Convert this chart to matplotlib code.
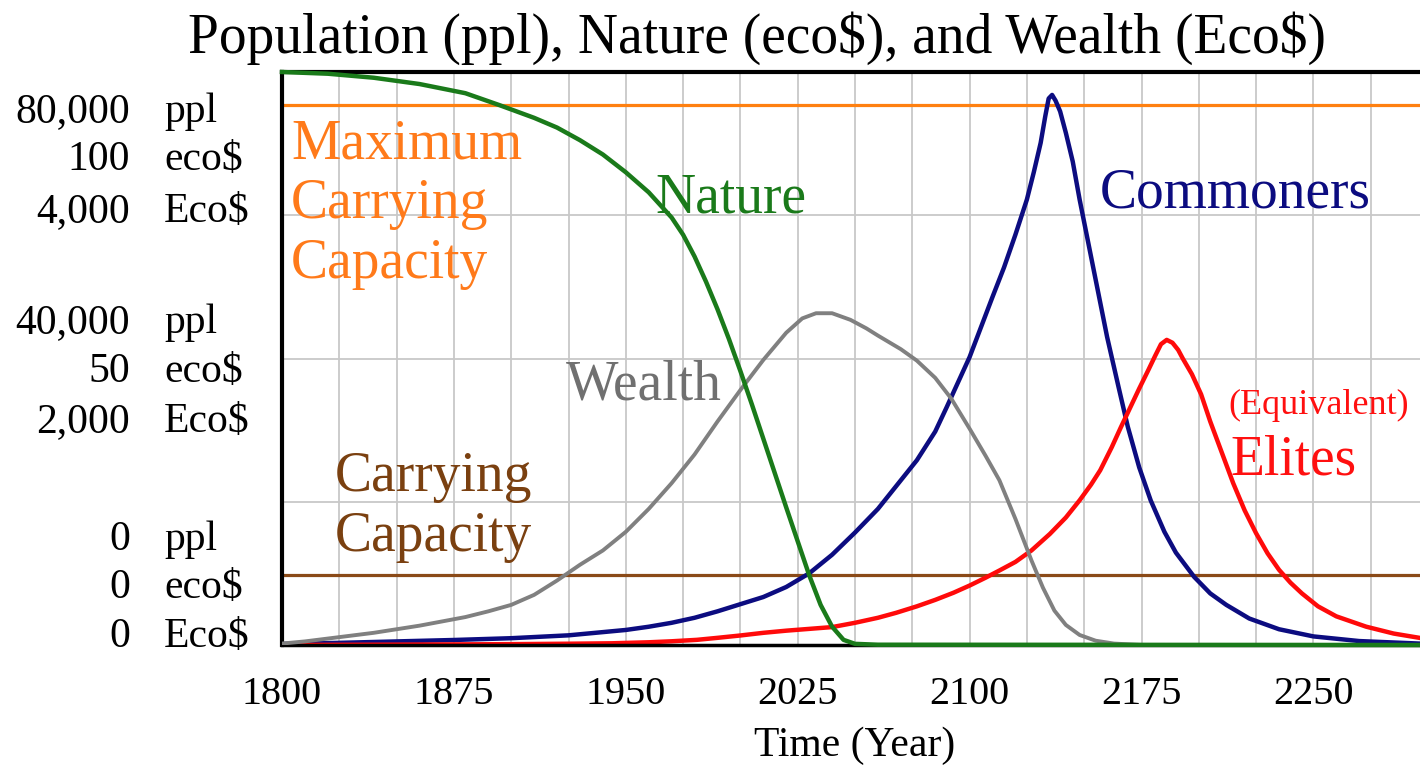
import matplotlib.pyplot as plt
import numpy as np

plt.rcParams['font.family'] = ['Liberation Serif', 'DejaVu Serif']

# population (ppl)
commoners_years = [1800, 1825, 1850, 1875, 1900, 1925, 1950, 1960, 1970, 1980, 1990, 2000,
                   2010, 2020, 2030, 2040, 2050, 2060, 2070, 2077, 2085, 2090, 2095, 2100,
                   2105, 2110, 2115, 2120, 2125, 2128, 2131, 2133, 2134.5, 2136, 2137.5,
                   2139.5, 2142, 2145, 2148, 2152, 2157, 2160, 2165, 2169, 2174, 2179, 2185,
                   2190, 2198, 2205, 2212, 2222, 2235, 2250, 2270, 2300]
commoners = [150, 300, 500, 700, 950, 1350, 2100, 2550, 3100, 3800, 4700, 5700,
             6700, 8100, 10000, 12600, 15700, 19000, 23000, 25800, 29800, 33200, 36700, 40200,
             44400, 48600, 52700, 57300, 62200, 66000, 70100, 73800, 76300, 76800, 76000,
             74500, 71500, 67500, 62200, 55800, 47800, 43000, 36000, 30500, 24800, 20200, 15800,
             12900, 9500, 7200, 5600, 3700, 2200, 1200, 550, 150]

elites_years = [1800, 1850, 1900, 1925, 1944, 1960, 1970, 1981, 1990, 2000, 2010, 2020,
                2030, 2040, 2050, 2060, 2068, 2077, 2085, 2093, 2100, 2107, 2113, 2120,
                2127, 2135, 2142, 2148, 2153, 2157, 2162, 2166, 2170, 2174, 2178, 2181,
                2183.5, 2186, 2188.5, 2191, 2193, 2197, 2201, 2205, 2210, 2215, 2220, 2225,
                2230, 2235, 2240, 2245, 2252, 2260, 2273, 2285, 2300]
elites = [0, 50, 120, 180, 240, 380, 520, 720, 1000, 1330, 1700, 2000,
          2250, 2500, 3100, 3800, 4500, 5400, 6300, 7300, 8300, 9400, 10400, 11600,
          13200, 15500, 17800, 20200, 22400, 24400, 27600, 30400, 33100, 35800, 38400, 40400,
          42000, 42600, 42200, 41200, 40000, 37800, 35000, 31200, 26900, 22600, 18800, 15600,
          12800, 10500, 8700, 7200, 5400, 4000, 2560, 1600, 800]

# nature (eco$)
nature_years = [1800, 1820, 1840, 1860, 1880, 1895, 1910, 1920, 1930, 1940, 1950, 1960,
                1970, 1975, 1980, 1985, 1990, 1995, 2000, 2005, 2010, 2015, 2020, 2025,
                2030, 2035, 2040, 2045, 2050, 2060, 2300]
nature = [100, 99.7, 99.0, 97.9, 96.3, 94.2, 92.0, 90.3, 88.1, 85.6, 82.5, 79.0,
          74.6, 71.6, 67.8, 63.4, 58.6, 53.4, 47.8, 42.0, 36.0, 30.0, 24.0, 18.1,
          12.2, 7.0, 3.2, 0.9, 0.2, 0.05, 0]

# wealth (Eco$)
wealth_years = [1800, 1810, 1820, 1830, 1840, 1850, 1860, 1870, 1880, 1890, 1900, 1910,
                1920, 1930, 1940, 1950, 1960, 1970, 1980, 1990, 2000, 2010, 2020, 2027,
                2033, 2040, 2048, 2055, 2060, 2070, 2077, 2085, 2092, 2100, 2107, 2113,
                2120, 2127, 2132, 2137, 2142, 2148, 2155, 2163, 2175, 2300]
wealth = [10, 25, 45, 65, 85, 110, 135, 165, 195, 235, 280, 350,
          450, 560, 660, 790, 950, 1130, 1330, 1560, 1780, 1990, 2180, 2280,
          2316, 2316, 2270, 2210, 2160, 2065, 1985, 1865, 1720, 1510, 1320, 1150,
          880, 590, 400, 240, 140, 70, 30, 10, 0, 0]

carrying_capacity = 9800
max_carrying_capacity = 75400

ppl_ticks = [80000, 40000, 0]
eco_ticks = [100, 50, 0]
Eco_ticks = [4000, 2000, 0]
year_ticks = [1800, 1875, 1950, 2025, 2100, 2175, 2250]

W, H = 1420, 771
fig = plt.figure(figsize=(W / 100, H / 100), dpi=100)
ax = fig.add_axes([282 / W, 126 / H, 1146 / W, 573 / H])
ax.set_xlim(1800, 2300)
ax.set_ylim(0, 80000)

# grid
ax.set_xticks(year_ticks)
ax.set_xticks(np.arange(1800, 2301, 25), minor=True)
ax.set_yticks([0, 20000, 40000, 60000, 80000])
ax.set_yticklabels([])
ax.grid(which='both', color='#c8c8c8', lw=1.3)
ax.set_axisbelow(True)
ax.tick_params(which='both', length=0)
ax.tick_params(axis='x', labelsize=29, pad=22)
ax.set_xlabel('Time (Year)', fontsize=30, labelpad=10)

for side in ['left', 'top']:
    ax.spines[side].set_linewidth(3)
ax.spines['bottom'].set_linewidth(2.5)
ax.spines['right'].set_visible(False)

ax.axhline(max_carrying_capacity, color='#ff8010', lw=2.3)
ax.axhline(carrying_capacity, color='#8a4a18', lw=2.3)
ax.plot(commoners_years, commoners, color='#0c0c80', lw=3.2)
ax.plot(elites_years, elites, color='#ff0a0a', lw=3.2)

ax_w = ax.twinx()
ax_w.set_ylim(0, 4000)
ax_w.set_axis_off()
ax_w.plot(wealth_years, wealth, color='#808080', lw=2.8)

ax_n = ax.twinx()
ax_n.set_ylim(0, 100)
ax_n.set_axis_off()
ax_n.plot(nature_years, nature, color='#1a7a1a', lw=3.2, clip_on=False)

# curve labels
ax.text(1804, 61570, 'Maximum\nCarrying\nCapacity', color='#ff7a1a', fontsize=40,
        va='center', ha='left', linespacing=1.2)
ax.text(1963, 62400, 'Nature', color='#1a7a1a', fontsize=40, va='center')
ax.text(2157, 63100, 'Commoners', color='#0c0c80', fontsize=40, va='center')
ax.text(1924, 36300, 'Wealth', color='#707070', fontsize=40, va='center')
ax.text(1823, 19270, 'Carrying\nCapacity', color='#7a4010', fontsize=40,
        va='center', linespacing=1.2)
ax.text(2213, 33500, '(Equivalent)', color='#ff1010', fontsize=26, va='center')
ax.text(2214, 25800, 'Elites', color='#ff1010', fontsize=40, va='center')

# stacked y-axis labels for the three units
rows = [(112, 160, 212), (323, 372, 422), (540, 588, 637)]
for (yp, ye, yE), p, e, E in zip(rows, ppl_ticks, eco_ticks, Eco_ticks):
    for ypx, val, unit in [(yp, p, 'ppl'), (ye, e, 'eco$'), (yE, E, 'Eco$')]:
        fig.text(130 / W, 1 - ypx / H, f'{val:,}', fontsize=30, ha='right', va='center')
        fig.text(164 / W, 1 - ypx / H, unit, fontsize=30, ha='left', va='center')

fig.text(757 / W, 1 - 38 / H, r'Population (ppl), Nature (eco\$), and Wealth (Eco\$)',
         fontsize=40, ha='center', va='center')

fig.savefig('out.png', dpi=100)
